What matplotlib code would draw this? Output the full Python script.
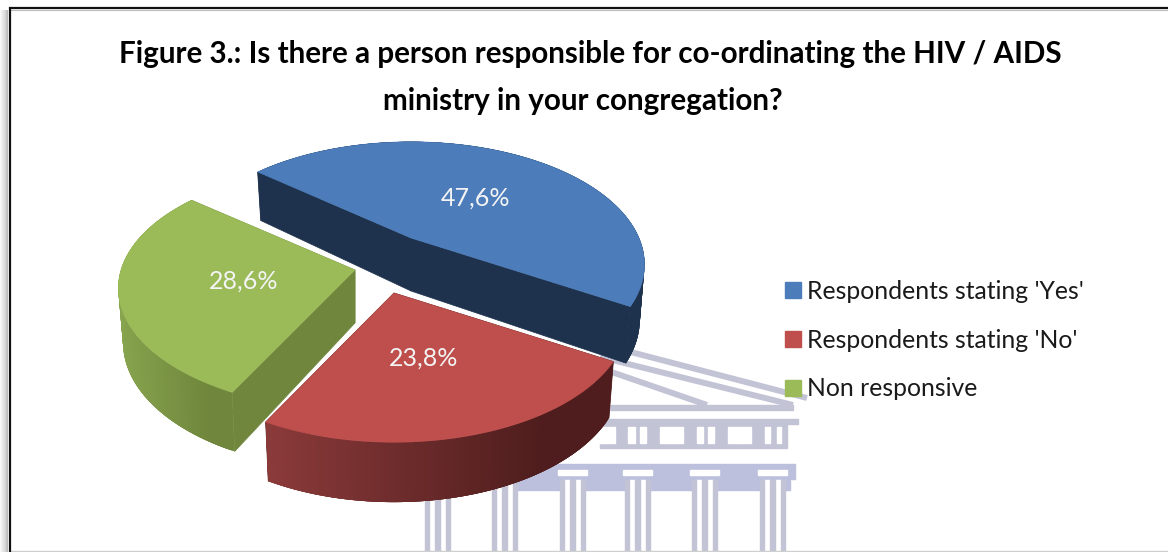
import numpy as np
import matplotlib
matplotlib.use('Agg')
import matplotlib.pyplot as plt
from matplotlib.collections import PolyCollection
from matplotlib.colors import to_rgb
from matplotlib.patches import Patch, Polygon, Rectangle

title_lines = ['Figure 3.: Is there a person responsible for co-ordinating the HIV / AIDS',
               'ministry in your congregation?']
labels = ["Respondents stating 'Yes'", "Respondents stating 'No'", 'Non responsive']
values = [47.6, 23.8, 28.6]

top_colors = ['#4c7dba', '#be4f4c', '#9bbb59']
side_colors = ['#1e324d', '#501d1d', '#6f863c']
wall_from = ['#1e324d', '#8b3a3a', '#87a44e']
wall_to = ['#1e324d', '#4f1d1d', '#6f863c']

# pie layout, in pixels of the figure
start_angle = 140.0
center = (395, 265)
explode = [(16, -27), (-1, 28), (-40, 5)]
label_pos = [(475, 198), (424, 358), (244, 281)]
radius_x = [228, 228, 234]
radius_y = [117, 117, 119]
persp = [0.216, 0.216, 0.15]
depth = 53


def project(angle, r, apex, i, lowered=False):
    a = np.radians(angle)
    X, Y = r * np.cos(a), r * np.sin(a)
    s = 1 / (1 + persp[i] * Y)
    px = radius_x[i] * X * s
    py = -radius_y[i] * Y * s
    if lowered:
        px = px * 0.98
        py = py + depth * (1 - 0.13 * Y)
    return np.column_stack([apex[0] + px, apex[1] + py])


fig = plt.figure(figsize=(11.68, 5.52), dpi=100)
ax = fig.add_axes([0, 0, 1, 1])
ax.set_xlim(0, 1168)
ax.set_ylim(552, 0)
ax.axis('off')

# building watermark behind the pie
wm = '#c2c4d6'
wm_dark = '#bcc0dc'
for x0, y0, x1, y1 in [(600, 344, 807, 398), (600, 357, 793, 405), (600, 368, 707, 405)]:
    ax.plot([x0, x1], [y0, y1], color=wm, lw=4.3, solid_capstyle='butt', zorder=1)
ax.add_patch(Rectangle((600, 405), 193, 5, color=wm, zorder=1))
ax.add_patch(Rectangle((600, 419), 198, 5, color=wm, zorder=1))
ax.add_patch(Rectangle((600, 424), 187, 24, color=wm, zorder=1))
for x0, x1 in [(590, 615), (628, 635), (640, 646), (660, 683), (697, 703), (708, 714), (728, 751), (765, 770), (777, 781)]:
    ax.add_patch(Rectangle((x0, 427), x1 - x0, 16, color='white', zorder=1.1))
ax.add_patch(Rectangle((515, 464), 280, 15, color=wm_dark, zorder=1))
ax.add_patch(Rectangle((515, 479), 275, 11, color=wm_dark, zorder=1))
for x0 in [425, 492, 560, 625, 692, 760]:
    for dx, w in [(0, 4), (10, 5), (21, 4)]:
        ax.add_patch(Rectangle((x0 + dx, 480), w, 72, color=wm, zorder=1.2))
    for dx, w in [(4, 6), (15, 6)]:
        ax.add_patch(Rectangle((x0 + dx, 480), w, 72, color='white', zorder=1.1))
    ax.add_patch(Rectangle((x0 - 2, 470), 29, 5, color='white', zorder=1.1))

# page frame with its soft shadow on the left
for i, alpha in enumerate([0.04, 0.08, 0.12, 0.16, 0.2, 0.26, 0.32, 0.4]):
    ax.add_patch(Rectangle((i, 10), 1, 542, color='#555555', alpha=alpha, lw=0, zorder=2))
ax.plot([9.5, 9.5, 1168], [552, 7.5, 7.5], color='#111111', lw=1.6, solid_joinstyle='miter', zorder=3)
ax.plot([11, 1168], [9.5, 9.5], color='#bbbbbb', lw=0.8, zorder=2)
ax.plot([10, 1168], [551, 551], color='#cfcfcf', lw=1, zorder=2)

# wedges, each one extruded down from its own exploded apex
angle = start_angle
for i, v in enumerate(values):
    sweep = v / sum(values) * 360
    angles = np.linspace(angle, angle - sweep, 160)
    angle -= sweep
    apex = (center[0] + explode[i][0], center[1] + explode[i][1])
    z = 10 + i

    rim = project(angles, 1.0, apex, i)
    rim_low = project(angles, 1.0, apex, i, lowered=True)
    apex_top = np.array([apex])
    apex_low = project(np.array([0.0]), 0.0, apex, i, lowered=True)

    for end in [0, -1]:
        face = [apex_top[0], rim[end], rim_low[end], apex_low[0]]
        ax.add_patch(Polygon(face, closed=True, fc=side_colors[i], ec=side_colors[i], lw=0.5, zorder=z))

    # strips overlap the next few so no seams show between them
    n = len(angles)
    strips = []
    for k in range(n - 1):
        e = min(k + 4, n - 1)
        strips.append(np.vstack([rim[k:e + 1], rim_low[k:e + 1][::-1]]))
    xs = rim[:-1, 0]
    t = (xs - xs.min()) / (xs.max() - xs.min())
    c0, c1 = np.array(to_rgb(wall_from[i])), np.array(to_rgb(wall_to[i]))
    cols = [c0 + (c1 - c0) * min(tt * 1.25, 1) for tt in t]
    ax.add_collection(PolyCollection(strips, facecolors=cols, edgecolors='none', zorder=z))

    top = np.vstack([apex_top, rim])
    ax.add_patch(Polygon(top, closed=True, fc=top_colors[i], ec=top_colors[i], lw=0.4, zorder=z + 0.5))

    ax.text(label_pos[i][0], label_pos[i][1], f'{v:.1f}'.replace('.', ',') + '%', color='#f4f4f4', fontsize=18,
            family='Lato', ha='center', va='center', zorder=20)

ax.text(590, 54, title_lines[0], fontsize=21.3, fontweight='bold', family='Lato', color='black',
        ha='center', va='center', zorder=20)
ax.text(583, 101, title_lines[1], fontsize=21.3, fontweight='bold', family='Lato', color='black',
        ha='center', va='center', zorder=20)

handles = [Patch(color=c) for c in top_colors]
leg = ax.legend(handles, labels, loc='center left', bbox_to_anchor=(785, 340), bbox_transform=ax.transData,
                frameon=False, prop={'family': 'Lato', 'size': 17.8}, labelcolor='#1a1a1a', borderpad=0,
                borderaxespad=0, handlelength=0.64, handleheight=0.64, handletextpad=0.25, labelspacing=1.05)
leg.set_zorder(20)

fig.savefig('out.png', dpi=100)
